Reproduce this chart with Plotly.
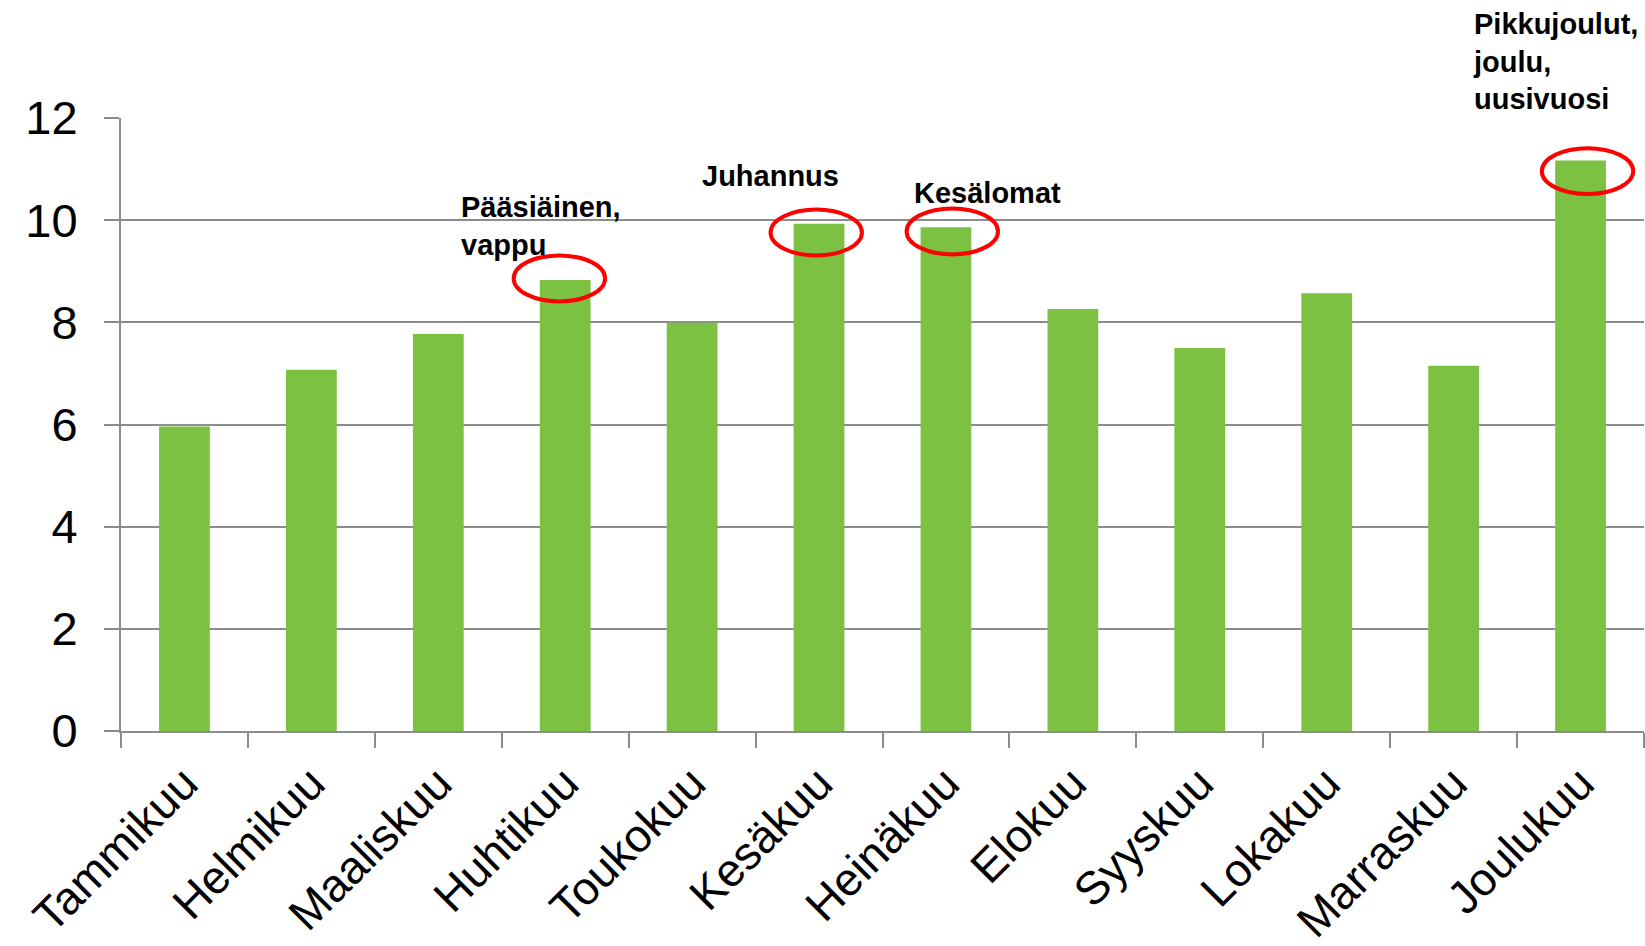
import plotly.graph_objects as go

months = ["Tammikuu", "Helmikuu", "Maaliskuu", "Huhtikuu", "Toukokuu", "Kesäkuu",
          "Heinäkuu", "Elokuu", "Syyskuu", "Lokakuu", "Marraskuu", "Joulukuu"]
values = [5.96, 7.07, 7.77, 8.83, 7.99, 9.93, 9.86, 8.26, 7.50, 8.57, 7.15, 11.17]

# highlighted months and their labels
highlight_months = ["Huhtikuu", "Kesäkuu", "Heinäkuu", "Joulukuu"]
highlight_labels = ["Pääsiäinen,<br>vappu", "Juhannus", "Kesälomat",
                    "Pikkujoulut,<br>joulu,<br>uusivuosi"]
# label placement (offset in category units from bar centre, y anchor, pixel shift)
label_dx = [-0.84, -0.94, -0.27, -0.86]
label_y = [9.89, 10.87, 10.54, 12.0]
label_shift = [0, 0, 0, 57]
# ellipse centre offsets relative to bar top centre (category units, value units)
ring_dx = [-0.046, -0.022, 0.05, 0.055]
ring_dy = [0.03, -0.17, -0.08, -0.21]

y_ticks = [0, 2, 4, 6, 8, 10, 12]

GREEN = "#7DC143"
GRID = "#8C8C8C"
FONT = "Liberation Sans, Arial, sans-serif"

fig = go.Figure()
fig.add_trace(go.Bar(x=months, y=values, marker=dict(color=GREEN, line=dict(width=0)),
                     width=0.4))

shapes = []
annotations = []
for m, lab, dx, ly, sh, rx, ry in zip(highlight_months, highlight_labels, label_dx,
                                      label_y, label_shift, ring_dx, ring_dy):
    i = months.index(m)
    cx = i + rx
    cy = values[i] + ry
    shapes.append(dict(type="circle", xref="x", yref="y",
                       x0=cx - 0.36, x1=cx + 0.36, y0=cy - 0.45, y1=cy + 0.45,
                       line=dict(color="#FF0000", width=4), layer="above"))
    annotations.append(dict(x=i + dx, y=ly, xref="x", yref="y", yshift=sh,
                            text="<b>" + lab + "</b>",
                            showarrow=False, xanchor="left", yanchor="middle", align="left",
                            font=dict(family=FONT, size=29, color="black")))

fig.update_layout(
    width=1645, height=946,
    margin=dict(l=121, r=1, t=118, b=215),
    plot_bgcolor="white", paper_bgcolor="white",
    showlegend=False,
    shapes=shapes, annotations=annotations,
    font=dict(family=FONT, color="black"),
)
fig.update_xaxes(
    type="category", tickson="boundaries", ticks="outside", ticklen=15, tickwidth=2,
    tickcolor=GRID, showline=True, linecolor=GRID, linewidth=2,
    tickangle=-45, tickfont=dict(family=FONT, size=46, color="black"),
    showgrid=False, range=[-0.5, 11.5], automargin=False, ticklabelstandoff=5,
)
fig.update_yaxes(
    range=[0, 12], tickvals=y_ticks, ticks="outside", ticklen=15, tickwidth=2,
    tickcolor=GRID, showline=True, linecolor=GRID, linewidth=2,
    showgrid=True, gridcolor=GRID, gridwidth=2, zeroline=False,
    tickfont=dict(family=FONT, size=47, color="black"), ticklabelstandoff=17,
    automargin=False,
)

fig.write_html("out.html", config={"displayModeBar": False},
               post_script="document.body.style.margin='0';")
